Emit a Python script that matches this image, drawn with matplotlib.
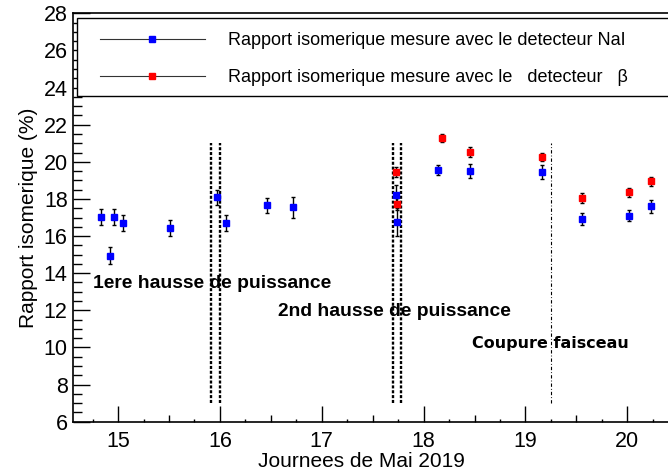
import numpy as np
import matplotlib
matplotlib.use('Agg')
import matplotlib.pyplot as plt
from matplotlib.lines import Line2D
from matplotlib.patches import Rectangle
from matplotlib.ticker import MultipleLocator

plt.rcParams['font.family'] = ['Liberation Sans', 'DejaVu Sans']
plt.rcParams['lines.scale_dashes'] = False

# __DATA__________________________
# detecteur NaI
jour_nai = [14.833, 14.921, 14.964, 15.044, 15.513, 15.969, 16.064, 16.467, 16.716,
            17.728, 17.738, 18.137, 18.458, 19.162, 19.555, 20.020, 20.233]
ratio_nai = [17.05, 14.94, 17.05, 16.68, 16.42, 18.08, 16.72, 17.65, 17.55,
             18.20, 16.74, 19.56, 19.51, 19.45, 16.91, 17.10, 17.61]
err_nai = [0.43, 0.46, 0.43, 0.43, 0.43, 0.40, 0.43, 0.42, 0.56,
           0.55, 0.75, 0.29, 0.39, 0.39, 0.33, 0.31, 0.34]

# detecteur beta
jour_beta = [17.728, 17.738, 18.180, 18.458, 19.162, 19.555, 20.020, 20.233]
ratio_beta = [19.45, 17.73, 21.27, 20.53, 20.25, 18.05, 18.36, 18.95]
err_beta = [0.25, 0.30, 0.22, 0.25, 0.23, 0.25, 0.23, 0.23]

# evenements (hausses de puissance, coupure faisceau)
hausse1 = [15.912, 16.004]
hausse2 = [17.698, 17.780]
coupure = [19.25]
evt_ymin, evt_ymax = 7, 21

labels_evt = ['1ere hausse de puissance', '2nd hausse de puissance', 'Coupure faisceau']
pos_evt = [(14.754, 13.45), (16.572, 11.95), (18.477, 10.22)]

# __FIGURE__________________________
fig = plt.figure(figsize=(6.68, 4.74), dpi=100)
ax = fig.add_axes([0.1097, 0.1103, 0.8903, 0.8616])

ax.errorbar(jour_nai, ratio_nai, yerr=err_nai, fmt='s', ms=4, mfc='blue', mec='blue',
            ecolor='black', elinewidth=1, capsize=1.3, capthick=1, zorder=4)
ax.errorbar(jour_beta, ratio_beta, yerr=err_beta, fmt='s', ms=4, mfc='red', mec='red',
            ecolor='black', elinewidth=1, capsize=1.3, capthick=1, zorder=4)

ax.vlines(hausse1 + hausse2, evt_ymin, evt_ymax, colors='black', lw=1.7,
          linestyles=[(0, (2.2, 1.3))])
ax.vlines(coupure, evt_ymin, evt_ymax, colors='black', lw=0.8,
          linestyles=[(0, (2.4, 1.5, 0.6, 1.5))])

for txt, (xt, yt) in zip(labels_evt[:2], pos_evt[:2]):
    ax.text(xt, yt, txt, fontsize=13.9, fontweight='bold', va='center', ha='left')
ax.text(pos_evt[2][0], pos_evt[2][1], labels_evt[2], fontsize=11.5, fontweight='bold',
        va='center', ha='left', family='DejaVu Sans')

# __AXES__________________________
ax.set_xlim(14.56, 20.40)
ax.set_ylim(6, 28)
ax.spines['right'].set_visible(False)
for s in ax.spines.values():
    s.set_linewidth(1.2)

ax.xaxis.set_major_locator(MultipleLocator(1))
ax.xaxis.set_minor_locator(MultipleLocator(0.25))
ax.yaxis.set_major_locator(MultipleLocator(2))
ax.yaxis.set_minor_locator(MultipleLocator(0.5))
ax.tick_params(axis='both', which='both', direction='in', top=False, right=False, labelsize=15.5)
ax.tick_params(axis='x', which='major', length=11.3, width=1, pad=7)
ax.tick_params(axis='x', which='minor', length=2.4, width=1)
ax.tick_params(axis='y', which='major', length=12.5, width=1, pad=4)
ax.tick_params(axis='y', which='minor', length=6.3, width=1)

# graduations intermediaires aux demi-journees
for loc, tick in zip(ax.xaxis.get_minorticklocs(), ax.xaxis.get_minor_ticks()):
    if abs(loc * 2 - round(loc * 2)) < 1e-6:
        tick.tick1line.set_markersize(5)

ax.set_xlabel('Journees de Mai 2019', fontsize=15, labelpad=1)
ax.xaxis.set_label_coords(0.4838, -0.075)
ax.set_ylabel('Rapport isomerique (%)', fontsize=15, labelpad=4)

# __LEGEND__________________________
ax.add_patch(Rectangle((0.0062, 0.7982), 1.1, 0.191, transform=ax.transAxes,
                       facecolor='white', edgecolor='black', lw=1, zorder=3, clip_on=False))
handles = [Line2D([], [], color='#333333', lw=0.8, marker='s', ms=4, mfc='blue', mec='blue'),
           Line2D([], [], color='#333333', lw=0.8, marker='s', ms=4, mfc='red', mec='red')]
leg = ax.legend(handles, ['Rapport isomerique mesure avec le detecteur NaI',
                          'Rapport isomerique mesure avec le   detecteur   \u03b2'],
                loc='upper left', bbox_to_anchor=(0.0449, 0.954), borderaxespad=0,
                borderpad=0, frameon=False, fontsize=12.95, handlelength=5.83,
                handletextpad=1.28, labelspacing=1.12)
leg.set_zorder(5)

fig.savefig('out.png', dpi=100)
